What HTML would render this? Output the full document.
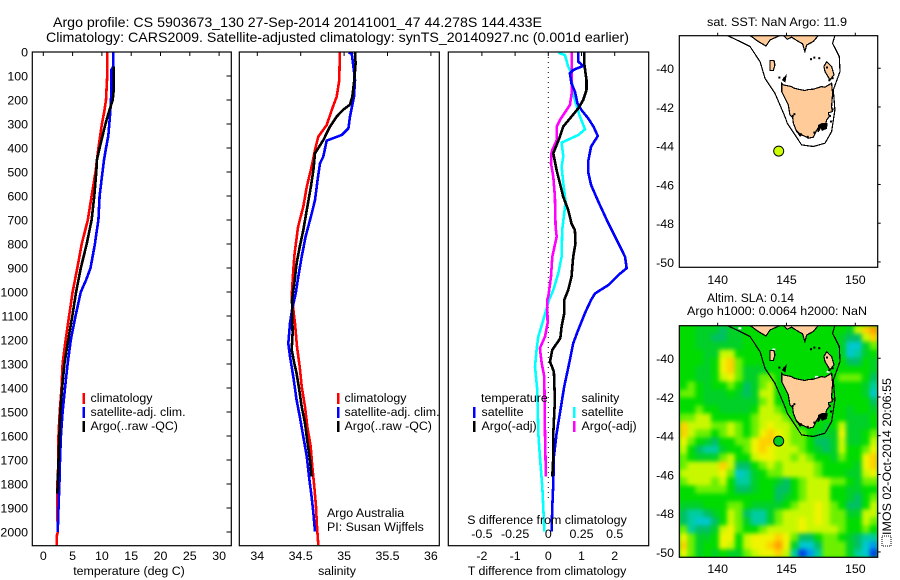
<!DOCTYPE html>
<html>
<head>
<meta charset="utf-8">
<title>Argo profile</title>
<style>
html,body{margin:0;padding:0;background:#fff;}
svg{display:block;}
text{font-family:"Liberation Sans",sans-serif;font-size:12.4px;fill:#000;}
</style>
</head>
<body>
<svg id="chart" xmlns="http://www.w3.org/2000/svg" width="900" height="580" viewBox="0 0 900 580">
<rect x="0" y="0" width="900" height="580" fill="#fff"/>
<text x="53" y="27" textLength="489" lengthAdjust="spacingAndGlyphs" style="font-size:14px">Argo profile: CS 5903673_130 27-Sep-2014 20141001_47 44.278S 144.433E</text>
<text x="46" y="42" textLength="583" lengthAdjust="spacingAndGlyphs" style="font-size:14px">Climatology: CARS2009. Satellite-adjusted climatology: synTS_20140927.nc (0.001d earlier)</text>
<g id="plots"></g>

<text x="129" y="575" text-anchor="middle">temperature (deg C)</text>
<text x="337" y="575" text-anchor="middle">salinity</text>
<text x="547" y="575" text-anchor="middle">T difference from climatology</text>
<text x="547" y="524" text-anchor="middle">S difference from climatology</text>

<g>
<rect x="82.5" y="393" width="2.5" height="11" fill="#f00"/>
<rect x="82.5" y="407" width="2.5" height="11" fill="#00f"/>
<rect x="82.5" y="421" width="2.5" height="11" fill="#000"/>
<text x="90.5" y="402">climatology</text>
<text x="90.5" y="416">satellite-adj. clim.</text>
<text x="90.5" y="430">Argo(..raw -QC)</text>
</g>
<g>
<rect x="337" y="393" width="2.5" height="11" fill="#f00"/>
<rect x="337" y="407" width="2.5" height="11" fill="#00f"/>
<rect x="337" y="421" width="2.5" height="11" fill="#000"/>
<text x="344.5" y="402">climatology</text>
<text x="344.5" y="416">satellite-adj. clim.</text>
<text x="344.5" y="430">Argo(..raw -QC)</text>
<text x="327" y="517">Argo Australia</text>
<text x="327" y="531">PI: Susan Wijffels</text>
</g>
<g>
<text x="481" y="402">temperature</text>
<text x="581.5" y="402">salinity</text>
<rect x="473" y="407" width="2.5" height="11" fill="#00f"/>
<rect x="473" y="421" width="2.5" height="11" fill="#000"/>
<rect x="573" y="407" width="2.5" height="11" fill="#0ff"/>
<rect x="573" y="421" width="2.5" height="11" fill="#f0f"/>
<text x="481.5" y="416">satellite</text>
<text x="481.5" y="430">Argo(-adj)</text>
<text x="581.5" y="416">satellite</text>
<text x="581.5" y="430">Argo(-adj)</text>
</g>

<text x="707" y="26" textLength="140" lengthAdjust="spacingAndGlyphs">sat. SST: NaN Argo: 11.9</text>
<text x="707" y="302" textLength="87" lengthAdjust="spacingAndGlyphs">Altim. SLA: 0.14</text>
<text x="687" y="315" textLength="180" lengthAdjust="spacingAndGlyphs">Argo h1000: 0.0064 h2000: NaN</text>
<rect x="882" y="536" width="9" height="10" fill="none" stroke="#000" stroke-width="1" stroke-dasharray="1 1"/>
<text transform="translate(891 535) rotate(-90)" textLength="157" lengthAdjust="spacingAndGlyphs">IMOS 02-Oct-2014 20:06:55</text>
</svg>

<script>
// ---------- profile data ----------
const tempTicks = [0, 5, 10, 15, 20, 25, 30];
const salTicks = ['34', '34.5', '35', '35.5', '36'];
const tDiffTicks = [-2, -1, 0, 1, 2];
const sDiffTickLabels = ['-0.5', '-0.25', '0', '0.25', '0.5'];
const depthTicks = [0, 100, 200, 300, 400, 500, 600, 700, 800, 900, 1000, 1100, 1200, 1300, 1400, 1500, 1600, 1700, 1800, 1900, 2000];

const tempClimDepth = [0, 100, 200, 250, 300, 400, 500, 600, 700, 800, 900, 1000, 1100, 1200, 1300, 1400, 1500, 1600, 1700, 1800, 1900, 2000, 2015, 2057];
const tempClimValue = [10.9, 10.9, 10.7, 10.4, 10.0, 9.4, 8.9, 8.25, 7.6, 6.55, 5.8, 5.0, 4.4, 3.8, 3.3, 3.1, 2.8, 2.6, 2.6, 2.4, 2.35, 2.5, 2.3, 2.3];
const tempSatDepth = [0, 60, 75, 150, 200, 260, 350, 400, 450, 500, 600, 700, 750, 800, 880, 900, 950, 1000, 1100, 1200, 1300, 1400, 1500, 1600, 1700, 1800, 1900, 2000];
const tempSatValue = [11.95, 11.95, 11.6, 11.6, 11.55, 11.4, 11.1, 10.7, 10.35, 10.1, 9.6, 9.4, 9.1, 8.8, 8.2, 8.05, 7.3, 6.4, 5.5, 4.7, 4.15, 3.7, 3.3, 3.0, 2.85, 2.75, 2.6, 2.45];
const tempArgoDepth = [60, 150, 200, 250, 300, 350, 400, 450, 500, 600, 700, 800, 900, 1000, 1100, 1200, 1300, 1400, 1500, 1600, 1700, 1800, 1840];
const tempArgoValue = [12.05, 12.05, 11.85, 11.2, 10.6, 10.1, 9.6, 9.15, 9.05, 8.7, 8.25, 7.4, 6.4, 5.6, 4.95, 4.25, 3.6, 3.2, 2.9, 2.75, 2.6, 2.45, 2.4];

const salClimDepth = [3, 117, 186, 242, 304, 353, 408, 478, 561, 644, 728, 839, 908, 1019, 1130, 1228, 1311, 1394, 1478, 1561, 1644, 1728, 1811, 1894, 1978, 2054];
const salClimValue = [34.95, 34.945, 34.915, 34.857, 34.80, 34.703, 34.665, 34.626, 34.57, 34.53, 34.47, 34.43, 34.415, 34.396, 34.434, 34.457, 34.488, 34.511, 34.55, 34.576, 34.615, 34.634, 34.657, 34.676, 34.688, 34.703];
const salSatDepth = [3, 6, 61, 117, 186, 269, 318, 346, 369, 436, 464, 533, 617, 686, 769, 853, 936, 1006, 1075, 1130, 1214, 1269, 1353, 1450, 1519, 1603, 1686, 1769, 1853, 1922, 1998];
const salSatValue = [35.05, 35.087, 35.107, 35.126, 35.114, 35.068, 35.05, 34.972, 34.799, 34.76, 34.722, 34.695, 34.665, 34.618, 34.557, 34.511, 34.472, 34.442, 34.40, 34.377, 34.357, 34.377, 34.415, 34.453, 34.49, 34.53, 34.57, 34.596, 34.626, 34.646, 34.665];
const salArgoDepth = [3, 47, 117, 186, 219, 240, 269, 311, 367, 422, 492, 561, 658, 742, 811, 881, 964, 1033, 1172, 1241, 1297, 1339, 1408, 1478, 1547, 1631, 1700, 1769];
const salArgoValue = [35.126, 35.133, 35.118, 35.095, 35.068, 34.991, 34.915, 34.838, 34.76, 34.665, 34.646, 34.618, 34.57, 34.53, 34.49, 34.453, 34.426, 34.40, 34.407, 34.396, 34.426, 34.453, 34.484, 34.511, 34.55, 34.58, 34.607, 34.626];

const tDiffSatDepth = [3, 40, 58, 75, 89, 131, 165, 214, 242, 276, 311, 350, 394, 457, 499, 554, 624, 714, 797, 853, 901, 929, 971, 1006, 1033, 1089, 1158, 1214, 1283, 1394, 1506, 1589, 1686, 1797, 1894, 1998];
const tDiffSatValue = [0.90, 0.90, 1.05, 0.75, 0.65, 0.70, 0.80, 0.88, 1.0, 1.2, 1.36, 1.49, 1.29, 1.2, 1.2, 1.29, 1.51, 1.81, 2.11, 2.31, 2.36, 2.11, 1.81, 1.41, 1.29, 1.10, 0.90, 0.75, 0.65, 0.48, 0.35, 0.25, 0.17, 0.15, 0.12, 0.10];
const tDiffArgoDepth = [3, 47, 117, 158, 200, 235, 269, 311, 353, 422, 492, 547, 603, 658, 714, 742, 797, 853, 936, 992, 1033, 1089, 1144, 1193, 1241, 1290, 1332, 1450, 1589, 1686, 1769];
const tDiffArgoValue = [1.08, 1.08, 1.15, 1.15, 1.05, 0.90, 0.70, 0.45, 0.35, 0.15, 0.25, 0.35, 0.45, 0.60, 0.70, 0.80, 0.82, 0.75, 0.70, 0.60, 0.48, 0.48, 0.40, 0.36, 0.12, 0.05, 0.17, 0.20, 0.15, 0.15, 0.12];
const sDiffSatDepth = [3, 13, 61, 89, 158, 200, 269, 322, 346, 378, 436, 478, 547, 624, 742, 853, 922, 992, 1033, 1117, 1186, 1241, 1311, 1408, 1589, 1686, 1811, 1936, 1998];
const sDiffSatValue = [0.075, 0.126, 0.15, 0.176, 0.18, 0.20, 0.238, 0.276, 0.226, 0.10, 0.113, 0.10, 0.113, 0.13, 0.105, 0.10, 0.075, 0.038, 0.005, -0.038, -0.075, -0.088, -0.10, -0.083, -0.075, -0.063, -0.045, -0.035, -0.03];
const sDiffArgoDepth = [3, 75, 172, 221, 283, 311, 367, 415, 464, 519, 603, 728, 769, 853, 936, 1019, 1033, 1130, 1186, 1234, 1297, 1353, 1589, 1769];
const sDiffArgoValue = [0.176, 0.176, 0.176, 0.163, 0.088, 0.063, 0.063, 0.025, 0.02, 0.038, 0.05, 0.055, 0.063, 0.03, 0.02, 0, -0.008, -0.005, -0.025, -0.063, -0.05, -0.03, -0.025, -0.018];

// ---------- map data ----------
const mapLonTicks = [140, 145, 150];
const mapLatTicks = [-40, -42, -44, -46, -48, -50];
const floatLon = 144.433;
const floatLat = -44.278;

const contourLon = [140.70, 141.62, 142.35, 143.08, 143.44, 144.16, 144.89, 145.06, 145.86, 146.10, 146.95, 147.80, 148.28, 148.52, 148.40, 148.89, 148.84, 148.35, 148.52];
const contourLat = [-38.31, -38.62, -38.88, -39.66, -40.52, -41.29, -42.50, -42.84, -43.70, -43.96, -44.04, -43.87, -43.27, -42.15, -41.12, -40.17, -39.40, -38.71, -38.31];
const tasmaniaLon = [144.65, 144.77, 145.38, 145.50, 145.86, 146.34, 146.60, 146.95, 147.55, 147.80, 148.28, 148.35, 148.28, 148.33, 148.05, 148.10, 147.92, 147.80, 147.43, 147.14, 146.95, 146.59, 146.30, 146.10, 145.74, 145.50, 145.45, 145.25, 145.13, 144.89, 144.65];
const tasmaniaLat = [-40.77, -40.86, -40.95, -41.02, -41.08, -41.15, -41.10, -41.08, -40.95, -40.98, -40.77, -41.29, -41.98, -42.24, -42.30, -42.50, -42.67, -43.01, -42.93, -43.27, -43.56, -43.61, -43.50, -43.44, -43.27, -42.84, -42.55, -42.41, -41.89, -41.55, -41.20];
const victoriaWestLon = [142.35, 142.95, 143.51, 143.80, 144.53];
const victoriaWestLat = [-38.31, -38.62, -38.85, -38.54, -38.31];
const victoriaEastLon = [144.77, 145.06, 145.38, 145.86, 146.17, 146.34, 146.47, 146.95, 147.31];
const victoriaEastLat = [-38.31, -38.50, -38.40, -38.62, -38.74, -39.14, -38.80, -38.62, -38.31];
const kingIslandLon = [143.80, 144.09, 144.16, 144.04, 143.80];
const kingIslandLat = [-39.60, -39.60, -39.83, -40.12, -40.12];
const flindersLon = [147.92, 148.28, 148.45, 148.16, 147.80, 147.72];
const flindersLat = [-39.66, -39.91, -40.34, -40.60, -40.17, -39.91];
const stormBayLon = [147.35, 147.60, 147.95, 147.90, 147.60, 147.50, 147.30];
const stormBayLat = [-42.95, -42.85, -42.85, -43.10, -43.20, -43.05, -43.28];
const southWestLon = [145.74, 146.10, 145.98];
const southWestLat = [-43.24, -43.45, -43.50];
const robbinsLon = [144.72, 144.96, 144.89];
const robbinsLat = [-40.60, -40.40, -40.69];
const isletLon = [146.71, 146.95, 147.31, 144.41, 148.28, 148.09, 148.16, 145.50, 145.38, 145.98, 146.47, 146.95, 147.87, 148.28, 148.04, 144.77];
const isletLat = [-39.48, -39.40, -39.43, -40.43, -42.07, -42.41, -42.70, -42.32, -42.41, -43.36, -43.49, -43.27, -39.91, -40.46, -40.57, -40.46];
const whiteSpeckLon = [141.50, 145.01, 143.97, 147.92, 147.07, 147.92];
const whiteSpeckLat = [-38.40, -38.40, -39.50, -39.74, -40.91, -40.65];

const slaLevels = [
[6,6,5,5,5,4,5,5,6,6,6,6,6,6,6,6,6,6,6,6,6,5,8,10,11],
[6,6,5,5,4,4,5,5,6,6,6,6,6,6,6,6,6,6,6,6,5,4,4,8,10],
[6,6,5,5,5,5,5,5,6,6,6,6,6,6,6,6,6,6,6,6,5,2,2,5,7],
[6,6,6,5,5,8,8,6,6,6,6,6,6,6,6,6,6,6,6,6,5,2,3,5,6],
[6,6,6,5,6,9,10,7,6,6,6,6,6,6,6,6,6,6,6,6,6,4,4,6,5],
[6,6,5,5,6,9,10,7,5,5,5,6,6,6,6,6,6,6,6,6,6,6,6,6,5],
[6,6,5,5,6,8,9,7,5,5,7,7,6,6,6,6,6,6,6,6,7,7,7,6,4],
[6,7,6,5,6,6,7,6,4,5,7,8,6,6,6,6,6,6,6,6,6,6,6,5,3],
[7,7,6,5,5,5,6,5,4,5,8,8,6,6,6,6,6,6,6,6,6,6,6,5,2],
[6,6,6,5,5,5,5,5,5,5,7,8,6,6,6,6,6,6,6,6,6,6,6,6,4],
[6,6,7,6,6,5,5,5,5,6,8,8,7,6,6,6,6,6,6,6,6,5,6,6,5],
[7,7,8,8,6,6,6,6,6,7,8,8,8,7,6,6,6,6,6,6,6,5,5,5,6],
[10,8,8,8,7,7,8,7,6,7,8,9,8,8,7,6,6,6,5,6,8,5,5,5,6],
[10,8,7,7,6,7,8,7,6,7,9,10,9,8,7,7,6,5,5,5,9,5,5,6,7],
[9,7,6,5,4,6,6,7,7,9,10,10,9,8,7,7,6,4,4,5,8,5,5,6,8],
[8,6,4,3,3,5,6,6,7,9,10,9,8,8,8,7,6,5,4,5,8,6,6,7,9],
[7,6,5,5,5,7,8,6,6,8,9,9,8,8,7,8,7,6,6,5,7,6,6,9,10],
[7,8,8,8,8,10,8,4,4,6,7,8,7,8,8,8,8,7,6,6,6,6,5,9,10],
[8,8,8,8,8,9,7,2,3,5,6,7,7,8,8,8,8,7,6,6,6,5,5,8,9],
[7,8,8,8,7,8,6,3,3,5,6,6,5,4,6,7,8,8,8,7,7,6,5,7,7],
[6,6,7,7,7,7,6,4,4,5,6,6,4,4,6,7,8,8,8,6,6,5,5,6,6],
[6,6,6,6,6,6,6,6,6,6,6,6,4,5,6,7,8,8,8,6,6,5,4,6,7],
[5,5,5,6,6,6,7,7,6,5,5,5,5,6,7,8,8,9,8,7,6,4,4,6,8],
[4,3,3,4,5,6,8,7,4,3,3,5,7,8,8,8,8,9,8,7,7,5,5,8,8],
[4,3,2,2,4,6,8,7,5,3,3,5,7,8,8,9,8,9,8,7,7,6,6,8,7],
[7,3,4,4,5,8,9,7,6,6,7,8,8,8,8,9,8,8,8,8,7,6,6,7,6],
[9,7,5,5,6,9,9,6,8,9,9,9,10,9,7,4,4,6,7,7,6,5,4,3,3],
[10,7,5,6,6,9,8,6,8,9,9,10,11,9,5,2,2,4,7,7,7,5,4,2,1],
[9,7,5,6,5,6,5,5,7,8,9,9,10,8,3,0,1,3,7,7,7,5,3,2,0]
];
const slaColors = ['#0040e8', '#0098f0', '#00c8d0', '#00cca0', '#00c064', '#00d028', '#00dc00', '#6cf000', '#c8f800', '#f0f400', '#ffd000', '#ffa000'];

// ---------- helpers ----------
const SVGNS = 'http://www.w3.org/2000/svg';
const root = document.getElementById('plots');
function mk(tag, parent, attrs, text) {
  const el = document.createElementNS(SVGNS, tag);
  for (const k in attrs) el.setAttribute(k, attrs[k]);
  if (text !== undefined) el.textContent = text;
  parent.appendChild(el);
  return el;
}
function ptsOf(xs, ys, fx, fy) {
  return xs.map(function (x, i) { return fx(x).toFixed(1) + ',' + fy(ys[i]).toFixed(1); }).join(' ');
}

// ---------- profile panels ----------
const PTOP = 52, PBOT = 545.7;
const yDepth = function (d) { return PTOP + d * 0.24; };
const xTemp = function (t) { return 43.3 + t * 5.86; };
const xSal = function (s) { return 257.3 + (s - 34) * 86.8; };
const xTDiff = function (t) { return 548.3 + t * 33.2; };
const xSDiff = function (s) { return 548.3 + s * 4 * 33.2; };

function profile(parent, depths, values, fx, color, name) {
  const line = mk('polyline', parent, {
    points: ptsOf(values, depths, fx, yDepth),
    fill: 'none', stroke: color, 'stroke-width': 2.6, 'shape-rendering': 'crispEdges'
  });
  
  
}
function frame(parent, x0, x1, y0, y1, name) {
  const r = mk('rect', parent, {
    x: x0, y: y0, width: x1 - x0, height: y1 - y0,
    fill: 'none', stroke: '#000', 'stroke-width': 1.2
  });
  
  
}
function topTick(parent, x, y0, y1) {
  const t = mk('line', parent, { x1: x, x2: x, y1: y0, y2: y1, stroke: '#000', 'stroke-width': 1 });
  
  
}
function xLabel(parent, x, y, s) {
  const t = mk('text', parent, { x: x, y: y, 'text-anchor': 'middle' }, s);
  
  
}

// temperature panel
const tempPanel = mk('g', root, {});


profile(tempPanel, tempClimDepth, tempClimValue, xTemp, '#f00', 'temperature-climatology-line');
profile(tempPanel, tempSatDepth, tempSatValue, xTemp, '#00f', 'temperature-satellite-line');
profile(tempPanel, tempArgoDepth, tempArgoValue, xTemp, '#000', 'temperature-argo-line');
frame(tempPanel, 32.3, 231.3, PTOP, PBOT, 'temperature-panel-frame');
tempTicks.forEach(function (t) {
  topTick(tempPanel, xTemp(t), PTOP, PTOP + 4);
  xLabel(tempPanel, xTemp(t), 560, String(t));
});
depthTicks.forEach(function (d) {
  const y = yDepth(d);
  const tick = mk('line', tempPanel, { x1: 226.5, x2: 231, y1: y, y2: y, stroke: '#000', 'stroke-width': 1 });
  
  
  const lab = mk('text', tempPanel, { x: 28, y: y + 4.5, 'text-anchor': 'end' }, String(d));
  
  
});

// salinity panel
const salPanel = mk('g', root, {});


profile(salPanel, salClimDepth, salClimValue, xSal, '#f00', 'salinity-climatology-line');
profile(salPanel, salSatDepth, salSatValue, xSal, '#00f', 'salinity-satellite-line');
profile(salPanel, salArgoDepth, salArgoValue, xSal, '#000', 'salinity-argo-line');
frame(salPanel, 239.3, 439.3, PTOP, PBOT, 'salinity-panel-frame');
salTicks.forEach(function (s) {
  topTick(salPanel, xSal(parseFloat(s)), PTOP, PTOP + 4);
  xLabel(salPanel, xSal(parseFloat(s)), 560, s);
});

// difference panel
const diffPanel = mk('g', root, {});


const zeroLine = mk('line', diffPanel, {
  x1: xTDiff(0), x2: xTDiff(0), y1: PTOP, y2: 500,
  stroke: '#000', 'stroke-width': 1, 'stroke-dasharray': '1 4'
});


profile(diffPanel, sDiffSatDepth, sDiffSatValue, xSDiff, '#0ff', 'salinity-satellite-difference-line');
profile(diffPanel, sDiffArgoDepth, sDiffArgoValue, xSDiff, '#f0f', 'salinity-argo-difference-line');
profile(diffPanel, tDiffSatDepth, tDiffSatValue, xTDiff, '#00f', 'temperature-satellite-difference-line');
profile(diffPanel, tDiffArgoDepth, tDiffArgoValue, xTDiff, '#000', 'temperature-argo-difference-line');
frame(diffPanel, 448.3, 648.7, PTOP, PBOT, 'difference-panel-frame');
tDiffTicks.forEach(function (t, i) {
  topTick(diffPanel, xTDiff(t), PTOP, PTOP + 4);
  xLabel(diffPanel, xTDiff(t), 560, String(t));
  xLabel(diffPanel, xTDiff(t), 538, sDiffTickLabels[i]);
});

// ---------- maps ----------
const MAPL = 679.3, MAPR = 877.7, LON0 = 137.21, LON1 = 151.63, LAT0 = -38.32, LAT1 = -50.28;
const xLon = function (lon) { return MAPL + (lon - LON0) * 13.76; };
function polyShape(parent, lons, lats, fy, fill, stroke, name, closed) {
  const p = mk(closed ? 'polygon' : 'polyline', parent, {
    points: ptsOf(lons, lats, xLon, fy),
    fill: fill, stroke: stroke, 'stroke-width': 1.2, 'shape-rendering': 'crispEdges'
  });
  
  
}
function drawMap(name, top, bottom, withHeat, markerFill, labelY) {
  const yLat = function (lat) { return top + (LAT0 - lat) * 19.37; };
  const g = mk('g', root, {});
  
  

  const clipId = name + '-clip';
  const defs = mk('defs', g, {});
  const clip = mk('clipPath', defs, { id: clipId });
  mk('rect', clip, { x: MAPL, y: top, width: MAPR - MAPL, height: bottom - top });
  const clipped = mk('g', g, { 'clip-path': 'url(#' + clipId + ')' });

  if (withHeat) {
    const base = mk('rect', clipped, { x: MAPL, y: top, width: MAPR - MAPL, height: bottom - top, fill: '#00dc00' });
    
    
    const heat = mk('g', clipped, { style: 'filter:blur(2.2px)' });
    
    
    const nr = slaLevels.length, nc = slaLevels[0].length;
    const cw = (MAPR - MAPL) / nc, ch = (bottom - top) / nr;
    slaLevels.forEach(function (row, r) {
      row.forEach(function (v, c) {
        const cell = mk('rect', heat, {
          x: (MAPL + c * cw).toFixed(2), y: (top + r * ch).toFixed(2),
          width: (cw + 0.6).toFixed(2), height: (ch + 0.6).toFixed(2),
          fill: slaColors[v]
        });
        
        
      });
    });
    whiteSpeckLon.forEach(function (lon, i) {
      const speck = mk('rect', clipped, { x: xLon(lon), y: yLat(whiteSpeckLat[i]), width: 3, height: 2, fill: '#fff' });
      
      
    });
  }
  polyShape(clipped, contourLon, contourLat, yLat, 'none', '#000', 'depth-contour', false);
  polyShape(clipped, victoriaWestLon, victoriaWestLat, yLat, '#ffcc99', '#000', 'victoria-coast-west', true);
  polyShape(clipped, victoriaEastLon, victoriaEastLat, yLat, '#ffcc99', '#000', 'victoria-coast-east', true);
  polyShape(clipped, kingIslandLon, kingIslandLat, yLat, '#ffcc99', '#000', 'king-island', true);
  polyShape(clipped, flindersLon, flindersLat, yLat, '#ffcc99', '#000', 'flinders-island', true);
  polyShape(clipped, tasmaniaLon, tasmaniaLat, yLat, '#ffcc99', '#000', 'tasmania', true);
  polyShape(clipped, stormBayLon, stormBayLat, yLat, '#000', '#000', 'storm-bay-coast', true);
  polyShape(clipped, southWestLon, southWestLat, yLat, '#000', '#000', 'south-west-coast', true);
  polyShape(clipped, robbinsLon, robbinsLat, yLat, '#000', '#000', 'robbins-island', true);
  isletLon.forEach(function (lon, i) {
    const dot = mk('rect', clipped, { x: xLon(lon), y: yLat(isletLat[i]), width: 2, height: 2, fill: '#000' });
    
    
  });
  const marker = mk('circle', clipped, {
    cx: xLon(floatLon), cy: yLat(floatLat), r: 5,
    fill: markerFill, stroke: '#000', 'stroke-width': 1
  });
  
  

  frame(g, MAPL, MAPR, top, bottom, name + '-frame');
  mapLonTicks.forEach(function (lon) {
    topTick(g, xLon(lon), top - 3, top);
    xLabel(g, xLon(lon), labelY, String(lon));
  });
  mapLatTicks.forEach(function (lat) {
    const y = yLat(lat);
    const tick = mk('line', g, { x1: MAPR, x2: MAPR + 3, y1: y, y2: y, stroke: '#000', 'stroke-width': 1 });
    
    
    const lab = mk('text', g, { x: 674, y: y + 5, 'text-anchor': 'end' }, String(lat));
    
    
  });
}
drawMap('sst-map', 35.7, 267.3, false, '#ccff00', 284);
drawMap('sla-map', 325.7, 557.3, true, '#00cc22', 573);
</script>
</body>
</html>
